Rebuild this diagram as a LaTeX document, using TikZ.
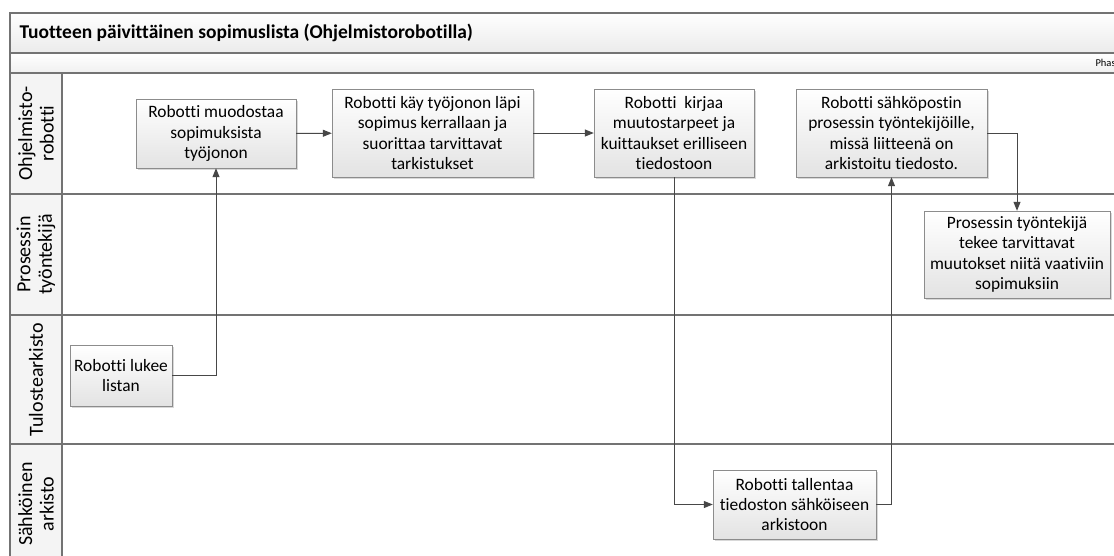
\documentclass[tikz,border=0pt]{standalone}
\usepackage{fontspec}
\setmainfont{Carlito}[Ligatures=NoCommon]
\usetikzlibrary{arrows.meta,positioning,shadows}
\definecolor{laneline}{HTML}{737373}
\definecolor{boxline}{HTML}{8C8C8C}
\definecolor{arrline}{HTML}{474747}

\begin{document}
\begin{tikzpicture}[x=1pt,y=-1pt,font=\fontsize{17.4}{20.4}\selectfont,
  box/.style={draw=boxline,thin,top color=white,bottom color=gray!22,align=center,inner sep=2pt,
    drop shadow={shadow xshift=1.5pt,shadow yshift=-1.5pt,fill=gray!50,opacity=.6}},
  lane/.style={rotate=90,align=center,font=\fontsize{20}{21.5}\selectfont},
  arr/.style={-{Triangle[length=9pt,width=7pt]},draw=arrline,line width=1pt},
  grid/.style={draw=laneline,line width=1.2pt}]
  \useasboundingbox (0,0) rectangle (1114,555);
  \clip (0,0) rectangle (1114,555);
  \fill[white] (0,0) rectangle (1114,555);
  \shade[top color=white,bottom color=gray!16] (10,13) rectangle (1130,53);
  \shade[top color=white,bottom color=gray!12] (10,53) rectangle (1130,73);
  \fill[gray!9] (10,73) rectangle (62,570);
  \draw[grid] (10,570) -- (10,13) -- (1130,13) (10,53) -- (1130,53) (10,73) -- (1130,73) (62,73) -- (62,570);
  \foreach \y in {194,315,444} \draw[grid] (10,\y) -- (1130,\y);

  \node[anchor=west,font=\bfseries\fontsize{19.5}{22}\selectfont] (title) at (16,33) {Tuotteen päivittäinen sopimuslista (Ohjelmistorobotilla)};
  \node[anchor=west,font=\fontsize{10.5}{12}\selectfont] (phase) at (1092,63) {Phase};
  \node[lane] (ohjelmisto) at (36,133.5) {Ohjelmisto-\\robotti};
  \node[lane] (prosessi) at (36,254.5) {Prosessin\\työntekijä};
  \node[lane] (tuloste) at (36,379.5) {Tulostearkisto};
  \node[lane] (sahkoinen) at (36,504) {Sähköinen\\arkisto};

  \node[box,minimum width=102pt,minimum height=61pt] (lukee) at (121,375.5) {Robotti lukee\\listan};
  \node[box,minimum width=160pt,minimum height=69pt] (muodostaa) at (216,133.5) {Robotti muodostaa\\sopimuksista\\työjonon};
  \node[box,minimum width=201pt,minimum height=88pt] (kay) at (432.5,133) {Robotti käy työjonon läpi\\sopimus kerrallaan ja\\suorittaa tarvittavat\\tarkistukset};
  \node[box,minimum width=160pt,minimum height=88pt] (kirjaa) at (674,133) {Robotti\ \ kirjaa\\muutostarpeet ja\\kuittaukset erilliseen\\tiedostoon};
  \node[box,minimum width=191pt,minimum height=88pt] (sahkoposti) at (891.5,133) {Robotti sähköpostin\\prosessin työntekijöille,\\missä liitteenä on\\arkistoitu tiedosto.};
  \node[box,minimum width=186pt,minimum height=87pt] (muutokset) at (1017,254.5) {Prosessin työntekijä\\tekee tarvittavat\\muutokset niitä vaativiin\\sopimuksiin};
  \node[box,minimum width=163pt,minimum height=69pt] (tallentaa) at (794.5,504.5) {Robotti tallentaa\\tiedoston sähköiseen\\arkistoon};

  \draw[arr](lukee)-|(muodostaa);\draw[arr](muodostaa)--(kay);\draw[arr](kay)--(kirjaa);
  \draw[arr](kirjaa)|-(tallentaa);\draw[arr](tallentaa)-|(sahkoposti);\draw[arr](sahkoposti)-|(muutokset);
\end{tikzpicture}
\end{document}
